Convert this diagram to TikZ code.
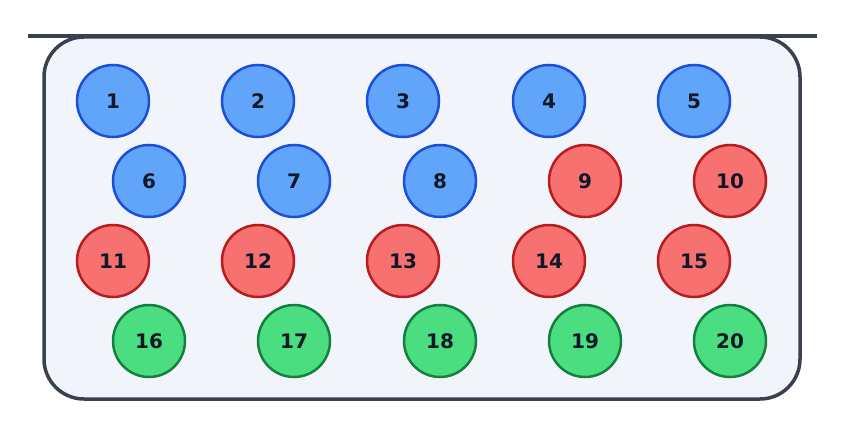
\documentclass[tikz,border=0pt]{standalone}
\usepackage{fontspec}
\setmainfont{DejaVu Sans}
\definecolor{bfill}{HTML}{60A5FA}\definecolor{bstroke}{HTML}{1D4ED8}
\definecolor{rfill}{HTML}{F87171}\definecolor{rstroke}{HTML}{B91C1C}
\definecolor{gfill}{HTML}{4ADE80}\definecolor{gstroke}{HTML}{15803D}
\definecolor{frame}{HTML}{374151}\definecolor{bg}{HTML}{F1F5FB}
\definecolor{txt}{HTML}{111827}
\begin{document}
\begin{tikzpicture}[x=1pt,y=-1pt,
 ball/.style={circle,minimum size=72pt,inner sep=0pt,line width=2.5pt,font=\bfseries\fontsize{20}{20}\selectfont,text=txt},
 blue/.style={ball,fill=bfill,draw=bstroke},
 red/.style={ball,fill=rfill,draw=rstroke},
 green/.style={ball,fill=gfill,draw=gstroke}]
\useasboundingbox (0,0) rectangle (843,436);
\node[draw=frame,fill=bg,line width=3.5pt,rounded corners=40pt,minimum width=756pt,minimum height=362pt] (box) at (422,218) {};
\coordinate (tl) at (28,36); \coordinate (tr) at (817,36);
\draw[frame,line width=3.5pt] (tl) -- (tr);
\foreach \n/\x/\y/\s in {1/113/101/blue,2/258/101/blue,3/403/101/blue,4/549/101/blue,5/694/101/blue,
 6/149/181/blue,7/294/181/blue,8/440/181/blue,9/585/181/red,10/730/181/red,
 11/113/261/red,12/258/261/red,13/403/261/red,14/549/261/red,15/694/261/red,
 16/149/341/green,17/294/341/green,18/440/341/green,19/585/341/green,20/730/341/green}
 \node[\s] (n\n) at (\x,\y) {\n};
\end{tikzpicture}
\end{document}
